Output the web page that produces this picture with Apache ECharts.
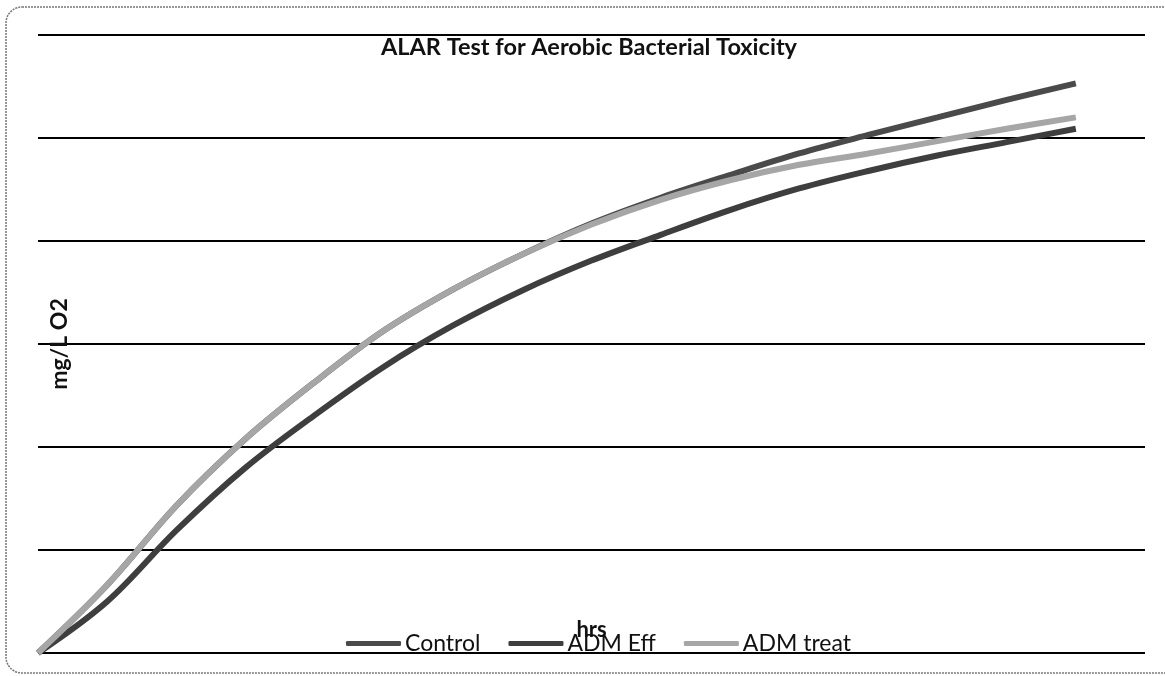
<!DOCTYPE html>
<html>
<head>
<meta charset="utf-8">
<script src="https://cdn.jsdelivr.net/npm/echarts@6/dist/echarts.min.js"></script>
<style>
html,body{margin:0;padding:0;background:#fff;}
#chart{width:1165px;height:676px;}
</style>
</head>
<body>
<div id="chart"></div>
<script>
var titleText = 'ALAR Test for Aerobic Bacterial Toxicity';
var yTitle = 'mg/L O2';
var xTitle = 'hrs';
var seriesNames = ['Control', 'ADM Eff', 'ADM treat'];
var hours = [0, 3, 6, 9, 12, 15, 18, 21, 24, 27, 30, 33, 36, 39, 42, 45];
var control = [0, 66, 143, 208, 263, 313, 353, 387, 417, 442, 464, 485, 503, 520, 537, 553];
var admEff = [0, 50, 119, 180, 231, 278, 318, 352, 381, 406, 430, 451, 468, 483, 496, 509];
var admTreat = [0, 66, 143, 208, 263, 313, 353, 387, 416, 440, 459, 474, 485, 497, 509, 520];

function pairs(xs, ys) { return xs.map(function (x, i) { return [x, ys[i]]; }); }

var fontFam = 'Lato, "Open Sans", sans-serif';
var chart = echarts.init(document.getElementById('chart'));
var lineColors = ['#4a4a4a', '#3e3e3e', '#a6a6a6'];
var allData = [control, admEff, admTreat];

chart.setOption({
  backgroundColor: '#ffffff',
  animation: false,
  title: {
    text: titleText,
    left: 376,
    top: 30,
    textStyle: { fontFamily: fontFam, fontSize: 23.5, fontWeight: 'bold', color: '#111' }
  },
  graphic: [{
    type: 'rect',
    shape: { x: 6, y: 7, width: 1180, height: 666, r: 16 },
    style: { fill: 'none', stroke: '#777', lineWidth: 1.5, lineDash: [2, 1] },
    silent: true, z: -1
  }],
  legend: {
    data: seriesNames,
    left: 341,
    top: 627,
    itemWidth: 55,
    itemHeight: 5,
    itemGap: 28,
    icon: 'roundRect',
    textStyle: { fontFamily: fontFam, fontSize: 23, color: '#111', padding: [0, 0, 0, -1] }
  },
  grid: { left: 38, right: 20, top: 35, bottom: 23, containLabel: false },
  xAxis: {
    type: 'value', min: 0, max: 48,
    name: xTitle, nameLocation: 'middle', nameGap: -34,
    nameTextStyle: { fontFamily: fontFam, fontSize: 22, fontWeight: 'bold', color: '#111' },
    axisLine: { show: false }, axisTick: { show: false }, axisLabel: { show: false },
    splitLine: { show: false }
  },
  yAxis: {
    type: 'value', min: 0, max: 600, interval: 100,
    name: yTitle, nameLocation: 'middle', nameRotate: 90, nameGap: -33,
    nameTextStyle: { fontFamily: fontFam, fontSize: 23, fontWeight: 'bold', color: '#111' },
    axisLine: { show: false }, axisTick: { show: false }, axisLabel: { show: false },
    splitLine: { show: true, lineStyle: { color: '#000', width: 2 } }
  },
  series: seriesNames.map(function (n, i) {
    return {
      name: n, type: 'line', data: pairs(hours, allData[i]),
      smooth: 0.35, showSymbol: false, symbol: 'none',
      lineStyle: { width: 6, color: lineColors[i] },
      itemStyle: { color: lineColors[i] }
    };
  })
});
</script>
</body>
</html>
